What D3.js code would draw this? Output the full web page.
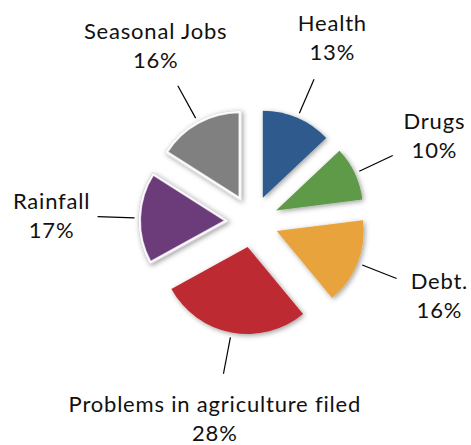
<!DOCTYPE html>
<html>
<head>
<meta charset="utf-8">
<script src="https://cdn.jsdelivr.net/npm/d3@7/dist/d3.min.js"></script>
<style>
  html, body { margin: 0; padding: 0; background: #fff; }
  svg { display: block; }
  text { font-family: Lato, "Open Sans", sans-serif; fill: #111; }
</style>
</head>
<body>
<svg id="chart" width="471" height="445"></svg>
<script>
// Causes and their share (%)
const categories = ["Health", "Drugs", "Debt.", "Problems in agriculture filed", "Rainfall", "Seasonal Jobs"];
const shares = [13, 10, 16, 28, 17, 16];
const colors = ["#2D5A8D", "#5E9A49", "#E8A33D", "#BD2B31", "#6C3B79", "#7F807F"];
const outlined = [false, false, false, false, true, true];

const width = 471, height = 445;
const cx = 252.5, cy = 221.5;
const radius = 87;
const explode = 26;
const leadIn = 118, leadOut = 155;
const labelR = 201;

const svg = d3.select("#chart");

const defs = svg.append("defs");
const shadow = defs.append("filter").attr("id", "shadow")
  .attr("x", "-20%").attr("y", "-20%").attr("width", "140%").attr("height", "140%");
shadow.append("feDropShadow")
  .attr("dx", 1.5).attr("dy", 1.5).attr("stdDeviation", 2.5)
  .attr("flood-color", "#000").attr("flood-opacity", 0.38);

const data = categories.map((c, i) => ({ name: c, value: shares[i], color: colors[i], outlined: outlined[i] }));

const pie = d3.pie().value(d => d.value).sort(null).startAngle(0).endAngle(2 * Math.PI);
const arcs = pie(data);
const arc = d3.arc().innerRadius(0).outerRadius(radius);

const polar = (a, r) => [cx + Math.sin(a) * r, cy - Math.cos(a) * r];
const mid = d => (d.startAngle + d.endAngle) / 2;

const g = svg.append("g");

const slices = g.selectAll("g.slice").data(arcs).join("g")
  .attr("class", "slice")
  .attr("transform", d => {
    const [x, y] = polar(mid(d), explode);
    return `translate(${x},${y})`;
  });

slices.append("path")
  .attr("d", arc)
  .attr("fill", d => d.data.color)
  .attr("stroke", d => d.data.outlined ? d3.interpolateRgb(d.data.color, "#fff")(0.75) : "none")
  .attr("stroke-width", 3)
  .attr("stroke-linejoin", "miter")
  .attr("filter", "url(#shadow)");

slices.filter(d => d.data.outlined).append("path")
  .attr("d", arc)
  .attr("fill", "none")
  .attr("stroke", "#fff")
  .attr("stroke-width", 1.6)
  .attr("stroke-linejoin", "miter");

// Leader lines
g.selectAll("line.leader").data(arcs).join("line")
  .attr("class", "leader")
  .attr("x1", d => polar(mid(d), leadIn)[0])
  .attr("y1", d => polar(mid(d), leadIn)[1])
  .attr("x2", d => polar(mid(d), leadOut)[0])
  .attr("y2", d => polar(mid(d), leadOut)[1])
  .attr("stroke", "#000")
  .attr("stroke-width", 1.2);

// Category and percentage labels
const labels = g.selectAll("text.label").data(arcs).join("text")
  .attr("class", "label")
  .attr("text-anchor", "middle")
  .attr("font-size", 22)
  .attr("letter-spacing", 0.8);

labels.append("tspan")
  .attr("x", d => polar(mid(d), labelR)[0])
  .attr("y", d => polar(mid(d), labelR)[1] - 6.5)
  .text(d => d.data.name);

labels.append("tspan")
  .attr("x", d => polar(mid(d), labelR)[0])
  .attr("y", d => polar(mid(d), labelR)[1] + 22.5)
  .text(d => d.data.value + "%");
</script>
</body>
</html>
